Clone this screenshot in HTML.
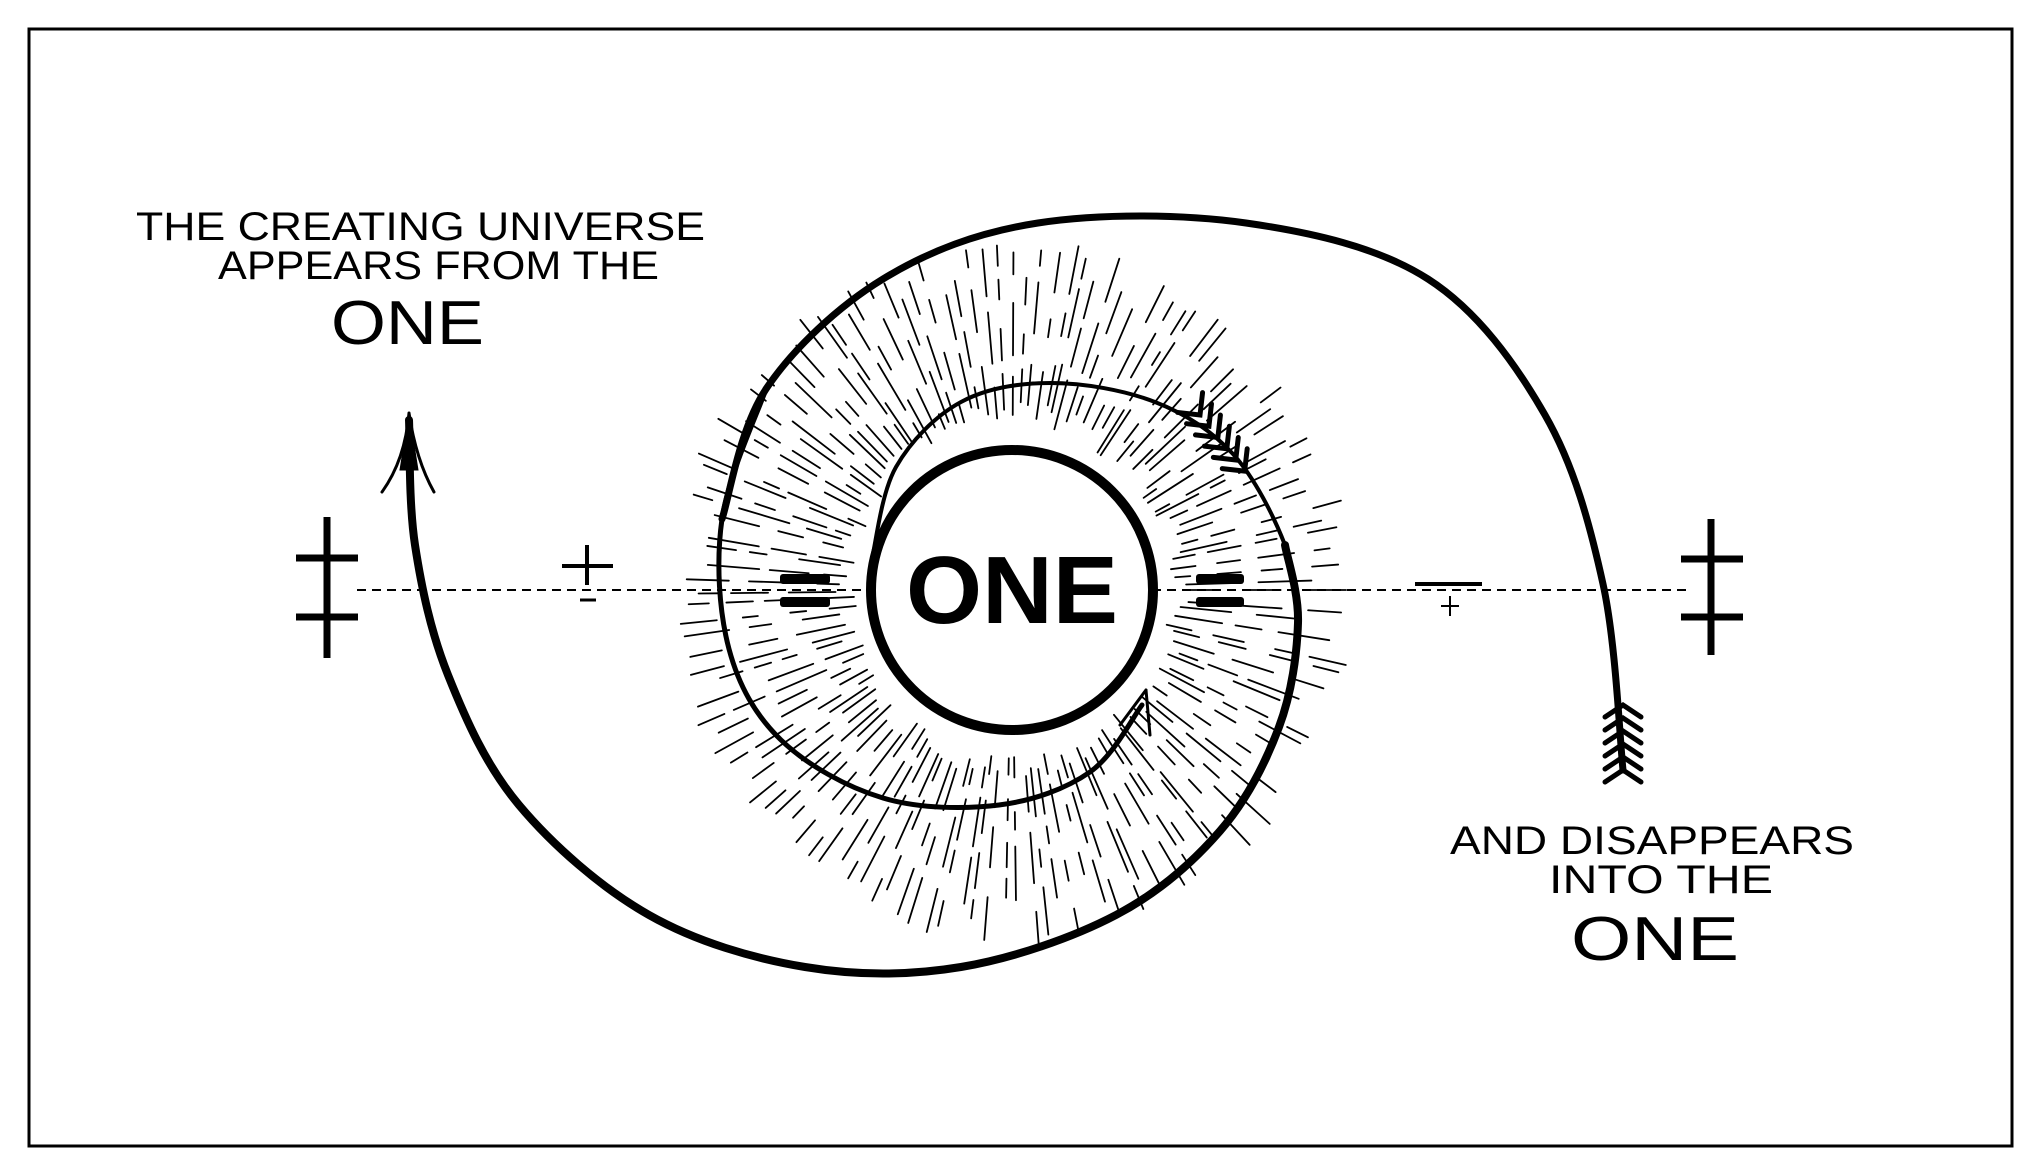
<!DOCTYPE html>
<html><head><meta charset="utf-8"><style>
html,body{margin:0;padding:0;background:#fff;}
svg{display:block;}
text{font-family:"Liberation Sans",sans-serif;fill:#000;}
</style></head><body>
<svg id="s" width="2035" height="1174" viewBox="0 0 2035 1174" xmlns="http://www.w3.org/2000/svg">
<rect x="0" y="0" width="2035" height="1174" fill="#fff"/>
<rect x="29" y="29" width="1983" height="1117" fill="none" stroke="#000" stroke-width="3"/>
<g id="rays" stroke="#000" stroke-width="1.8" stroke-linecap="round"></g>
<line x1="357" y1="590" x2="1690" y2="590" stroke="#000" stroke-width="2" stroke-dasharray="9,6"/>
<ellipse cx="1012" cy="590" rx="141" ry="140" fill="#fff" stroke="#000" stroke-width="10"/>
<text x="1012" y="623" font-size="96" font-weight="bold" text-anchor="middle" textLength="212" lengthAdjust="spacingAndGlyphs">ONE</text>
<g id="sp" fill="none" stroke="#000" stroke-linecap="round"></g>
<g fill="#000">
<rect x="780" y="574" width="50" height="10" rx="3"/><rect x="780" y="597" width="50" height="10" rx="3"/>
<rect x="1196" y="574" width="48" height="10" rx="3"/><rect x="1196" y="597" width="48" height="10" rx="3"/>
</g>
<g stroke="#000" stroke-width="7">
<line x1="327" y1="517" x2="327" y2="658"/><line x1="296" y1="558" x2="358" y2="558"/><line x1="296" y1="617" x2="358" y2="617"/>
<line x1="1711" y1="519" x2="1711" y2="655"/><line x1="1681" y1="559" x2="1743" y2="559"/><line x1="1681" y1="617" x2="1743" y2="617"/>
</g>
<g stroke="#000" stroke-width="4">
<line x1="562" y1="566" x2="613" y2="566"/><line x1="587" y1="545" x2="587" y2="585"/><line x1="580" y1="600" x2="596" y2="600" stroke-width="3"/>
<line x1="1415" y1="584" x2="1482" y2="584"/>
<line x1="1450" y1="596" x2="1450" y2="616" stroke-width="2"/><line x1="1441" y1="606" x2="1459" y2="606" stroke-width="2"/>
</g>
<text x="136" y="240" font-size="40" textLength="569" lengthAdjust="spacingAndGlyphs">THE CREATING UNIVERSE</text>
<text x="218" y="279" font-size="40" textLength="441" lengthAdjust="spacingAndGlyphs">APPEARS FROM THE</text>
<text x="331" y="344" font-size="62" textLength="153" lengthAdjust="spacingAndGlyphs">ONE</text>
<text x="1450" y="854" font-size="40" textLength="404" lengthAdjust="spacingAndGlyphs">AND DISAPPEARS</text>
<text x="1549" y="893" font-size="40" textLength="224" lengthAdjust="spacingAndGlyphs">INTO THE</text>
<text x="1571" y="960" font-size="62" textLength="168" lengthAdjust="spacingAndGlyphs">ONE</text>
</svg>
<script>
(function(){
var NS="http://www.w3.org/2000/svg";
function cr(p){var d="M"+p[0][0]+","+p[0][1];for(var i=0;i<p.length-1;i++){var a=p[Math.max(i-1,0)],b=p[i],c=p[i+1],e=p[Math.min(i+2,p.length-1)];
d+=" C"+(b[0]+(c[0]-a[0])/6)+","+(b[1]+(c[1]-a[1])/6)+" "+(c[0]-(e[0]-b[0])/6)+","+(c[1]-(e[1]-b[1])/6)+" "+c[0]+","+c[1];}return d;}
function path(g,d,w,extra){var el=document.createElementNS(NS,"path");el.setAttribute("d",d);el.setAttribute("stroke-width",w);if(extra)for(var k in extra)el.setAttribute(k,extra[k]);g.appendChild(el);return el;}
var rg=document.getElementById("rays");var cx=1012,cy=590;var seed=7;function rnd(){seed=(seed*16807)%2147483647;return seed/2147483647;}
for(var i=0;i<135;i++){var t=i/135*Math.PI*2+rnd()*0.03;var r=160+rnd()*25;
while(r<320){var l=15+rnd()*40;var r2=Math.min(r+l,330+rnd()*20);
var ln=document.createElementNS(NS,"line");ln.setAttribute("x1",cx+Math.cos(t)*r*0.98);ln.setAttribute("y1",cy+Math.sin(t)*r*1.02);ln.setAttribute("x2",cx+Math.cos(t)*r2*0.98);ln.setAttribute("y2",cy+Math.sin(t)*r2*1.02);rg.appendChild(ln);r=r2+10+rnd()*25;}}
var g=document.getElementById("sp");
var s2=[[1623,770],[1603,584],[1545,415],[1428,279],[1246,223],[1038,223],[883,279],[766,389],[722,519],[729,649],[781,740],[883,798],[999,805],[1090,772],[1142,705]];
path(g,cr(s2.slice(0,9)),7);path(g,cr(s2.slice(7)),5);
var s1=[[872,558],[896,467],[961,402],[1051,383],[1155,402],[1233,454],[1285,545],[1298,623],[1279,727],[1220,831],[1116,915],[961,967],[805,967],[649,915],[519,805],[448,675],[415,545],[409,420]];
path(g,cr(s1.slice(0,8)),4);path(g,cr(s1.slice(6)),8);
path(g,"M409,413 Q405,460 382,492 M409,413 Q416,460 434,492",3);
path(g,"M409,413 L400,470 L418,470 Z",1,{fill:"#000"});
path(g,"M1146,690 L1120,725 M1146,690 L1150,735",3);
for(var j=0;j<6;j++){var y=705+j*13;path(g,"M1605,"+(y+12)+" L1623,"+y+" L1641,"+(y+12),5);}
// feathers on inner spiral, direction down-right
var dx=0.62,dy=0.78,nx=-dy,ny=dx;
for(var j=0;j<6;j++){var fx=1200+j*9*dx*1.6,fy=415+j*9*dy*1.6;
var ax=fx-dx*16+nx*16,ay=fy-dy*16+ny*16,bx=fx-dx*16-nx*16,by=fy-dy*16-ny*16;
path(g,"M"+ax+","+ay+" L"+fx+","+fy+" L"+bx+","+by,5);}
})();
</script>
</body></html>
